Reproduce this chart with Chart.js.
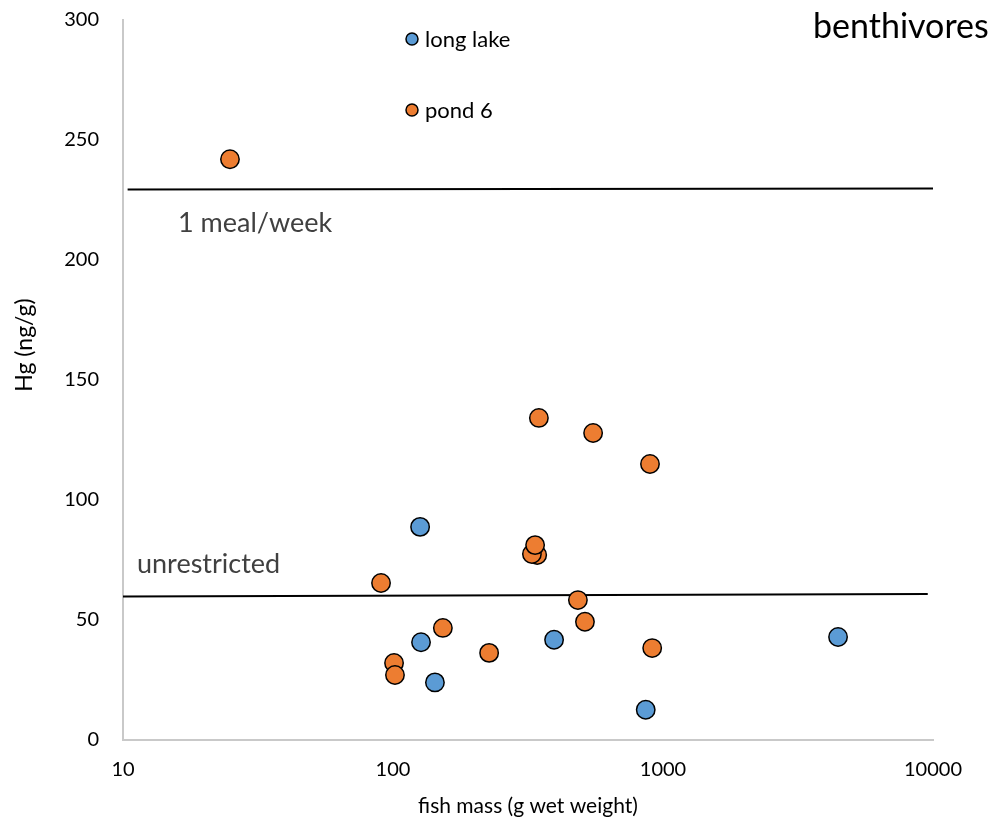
<!DOCTYPE html>
<html><head><meta charset="utf-8">
<script src="https://cdn.jsdelivr.net/npm/chart.js@4"></script>
<style>html,body{margin:0;padding:0;background:#fff}#wrap{width:996px;height:827px}</style>
</head><body><div id="wrap"><canvas id="c" width="996" height="827"></canvas></div>
<script>
const seriesNames = ['long lake', 'pond 6'];
const longLakeMass = [126, 127, 143, 395, 863, 4450];
const longLakeHg = [88.8, 40.7, 24.0, 41.8, 12.6, 42.9];
const pond6Mass = [24.9, 90.3, 100.9, 101.7, 153, 227, 347, 342, 327, 336, 551, 895, 484, 514, 912];
const pond6Hg = [242, 65.4, 32.1, 27.1, 46.7, 36.3, 134.2, 77.1, 77.5, 81.2, 127.9, 115, 58.3, 49.3, 38.3];
const xTickValues = [10, 100, 1000, 10000];
const guideNames = ['1 meal/week', 'unrestricted'];
const mealMass = [10.4, 10000];
const mealHg = [229.4, 229.8];
const unrestrictedMass = [10, 9560];
const unrestrictedHg = [59.8, 60.8];
const chartTitle = 'benthivores';
const xTitle = 'fish mass (g wet weight)';
const yTitle = 'Hg (ng/g)';

const BLUE = '#5B9BD5', ORANGE = '#ED7D31';
const FONT = 'Lato';
const pts = (xs, ys) => xs.map((x, i) => ({x: x, y: ys[i]}));

const annot = {
  id: 'annot',
  afterDraw(chart) {
    const ctx = chart.ctx;
    ctx.save();
    ctx.textBaseline = 'alphabetic';
    ctx.fillStyle = '#000';
    ctx.font = '34px ' + FONT;
    ctx.textAlign = 'left';
    ctx.fillText(chartTitle, 813, 38);
    ctx.fillStyle = '#404040';
    ctx.font = '27px ' + FONT;
    ctx.fillText(guideNames[0], 178, 232);
    ctx.fillText(guideNames[1], 137, 573);
    // in-plot legend
    const items = [[seriesNames[0], BLUE, 39], [seriesNames[1], ORANGE, 110]];
    ctx.font = '22px ' + FONT;
    items.forEach(([name, col, y]) => {
      ctx.beginPath();
      ctx.arc(412, y, 6, 0, Math.PI * 2);
      ctx.fillStyle = col; ctx.fill();
      ctx.lineWidth = 1.5; ctx.strokeStyle = '#000'; ctx.stroke();
      ctx.fillStyle = '#000';
      ctx.textBaseline = 'middle';
      ctx.fillText(name, 425, y + 1);
    });
    // y axis title
    ctx.translate(25, 345);
    ctx.rotate(-Math.PI / 2);
    ctx.textAlign = 'center';
    ctx.textBaseline = 'middle';
    ctx.font = '23px ' + FONT;
    ctx.fillStyle = '#000';
    ctx.fillText(yTitle, 0, 0);
    ctx.restore();
  }
};

new Chart(document.getElementById('c'), {
  type: 'scatter',
  data: {
    datasets: [
      {label: seriesNames[1], data: pts(pond6Mass, pond6Hg), backgroundColor: ORANGE, borderColor: '#000', borderWidth: 1.5, pointRadius: 9.2, order: 1},
      {label: seriesNames[0], data: pts(longLakeMass, longLakeHg), backgroundColor: BLUE, borderColor: '#000', borderWidth: 1.5, pointRadius: 9.2, order: 2},
      {label: guideNames[0], data: pts(mealMass, mealHg), showLine: true, borderColor: '#000', borderWidth: 2, pointRadius: 0, order: 3},
      {label: guideNames[1], data: pts(unrestrictedMass, unrestrictedHg), showLine: true, borderColor: '#000', borderWidth: 2, pointRadius: 0, order: 4}
    ]
  },
  options: {
    responsive: false,
    animation: false,
    layout: {padding: {left: 0, top: 20, right: 63, bottom: 0}},
    plugins: {legend: {display: false}, tooltip: {enabled: false}},
    scales: {
      x: {
        type: 'logarithmic', min: 10, max: 10000,
        afterFit(s) { s.height = 87; s.paddingLeft = 0; s.paddingRight = 0; },
        afterBuildTicks(s) { s.ticks = xTickValues.map(v => ({value: v})); },
        grid: {display: false, drawTicks: false},
        border: {display: true, color: '#c9c9c9', width: 2},
        ticks: {color: '#000', font: {family: FONT, size: 20}, padding: 18, maxRotation: 0, autoSkip: false,
                callback: v => String(v)},
        title: {display: true, text: xTitle, color: '#000', font: {family: FONT, size: 21}, padding: {top: 0, bottom: 8}}
      },
      y: {
        min: 0, max: 300,
        afterFit(s) { s.width = 123; s.paddingTop = 0; s.paddingBottom = 0; },
        grid: {display: false, drawTicks: false},
        border: {display: true, color: '#c9c9c9', width: 2},
        ticks: {stepSize: 50, color: '#000', font: {family: FONT, size: 20}, padding: 24},
        title: {display: false}
      }
    }
  },
  plugins: [annot]
});
</script></body></html>
